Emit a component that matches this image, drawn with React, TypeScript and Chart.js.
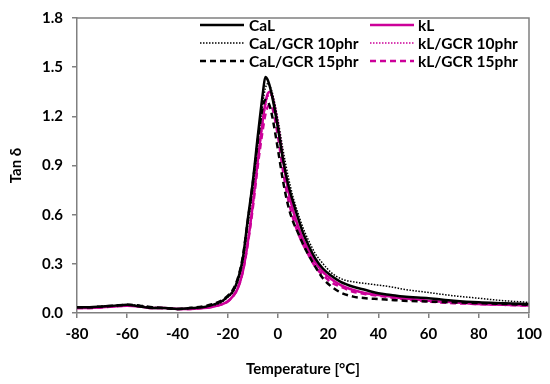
import React, { useEffect, useRef } from "react";
import { Chart, registerables } from "chart.js";

Chart.register(...registerables);

const temps = [-80, -75, -70, -65, -60, -55, -50, -45, -40, -35, -30, -27, -24, -22, -20, -18, -16, -14, -12, -10, -8, -6, -5, -4, -3, -2, 0, 2, 4, 6, 8, 10, 12, 15, 18, 21, 25, 30, 35, 40, 45, 50, 60, 70, 80, 90, 100];

const cal = [0.035, 0.035, 0.04, 0.045, 0.05, 0.04, 0.03, 0.03, 0.025, 0.03, 0.035, 0.045, 0.06, 0.075, 0.1, 0.13, 0.2, 0.33, 0.57, 0.8, 1.08, 1.34, 1.44, 1.42, 1.37, 1.3, 1.13, 0.94, 0.79, 0.68, 0.58, 0.49, 0.42, 0.33, 0.27, 0.23, 0.19, 0.16, 0.14, 0.12, 0.11, 0.1, 0.09, 0.075, 0.065, 0.06, 0.055];
const cal10 = [0.035, 0.035, 0.04, 0.045, 0.05, 0.045, 0.035, 0.03, 0.025, 0.03, 0.035, 0.045, 0.055, 0.07, 0.095, 0.125, 0.19, 0.31, 0.53, 0.76, 1.03, 1.28, 1.37, 1.4, 1.38, 1.33, 1.18, 1.0, 0.84, 0.71, 0.61, 0.52, 0.45, 0.36, 0.3, 0.25, 0.21, 0.19, 0.18, 0.17, 0.16, 0.145, 0.125, 0.105, 0.09, 0.075, 0.065];
const cal15 = [0.035, 0.035, 0.04, 0.045, 0.05, 0.045, 0.035, 0.03, 0.025, 0.03, 0.04, 0.05, 0.065, 0.08, 0.105, 0.14, 0.21, 0.34, 0.56, 0.79, 1.05, 1.26, 1.3, 1.29, 1.25, 1.18, 1.0, 0.81, 0.66, 0.56, 0.49, 0.42, 0.36, 0.28, 0.21, 0.165, 0.125, 0.1, 0.09, 0.085, 0.08, 0.075, 0.07, 0.065, 0.06, 0.055, 0.05];
const kl = [0.03, 0.03, 0.035, 0.04, 0.045, 0.04, 0.03, 0.03, 0.025, 0.025, 0.03, 0.035, 0.045, 0.055, 0.07, 0.1, 0.15, 0.25, 0.43, 0.66, 0.93, 1.18, 1.28, 1.34, 1.35, 1.31, 1.15, 0.94, 0.76, 0.63, 0.53, 0.45, 0.39, 0.31, 0.25, 0.21, 0.17, 0.14, 0.12, 0.11, 0.1, 0.09, 0.075, 0.065, 0.055, 0.05, 0.045];
const kl10 = [0.03, 0.03, 0.035, 0.04, 0.045, 0.04, 0.03, 0.03, 0.025, 0.025, 0.03, 0.035, 0.045, 0.055, 0.07, 0.1, 0.15, 0.25, 0.42, 0.65, 0.92, 1.16, 1.26, 1.32, 1.33, 1.3, 1.14, 0.93, 0.75, 0.62, 0.52, 0.44, 0.38, 0.3, 0.245, 0.205, 0.17, 0.14, 0.12, 0.11, 0.1, 0.09, 0.075, 0.065, 0.055, 0.05, 0.045];
const kl15 = [0.03, 0.03, 0.035, 0.04, 0.045, 0.04, 0.03, 0.03, 0.025, 0.025, 0.03, 0.035, 0.045, 0.055, 0.07, 0.1, 0.15, 0.25, 0.42, 0.64, 0.9, 1.12, 1.21, 1.26, 1.27, 1.24, 1.08, 0.87, 0.7, 0.58, 0.49, 0.42, 0.36, 0.28, 0.23, 0.19, 0.16, 0.13, 0.115, 0.105, 0.095, 0.085, 0.07, 0.06, 0.055, 0.05, 0.045];

const xTicks = [-80, -60, -40, -20, 0, 20, 40, 60, 80, 100];
const yTicks = [0.0, 0.3, 0.6, 0.9, 1.2, 1.5, 1.8];

const BLACK = "#000000";
const MAGENTA = "#CC0099";
const FONT = "Lato";

const seriesDefs = [
  { label: "CaL", values: cal, color: BLACK, dash: [] as number[], width: 2.5 },
  { label: "CaL/GCR 10phr", values: cal10, color: BLACK, dash: [1.5, 1.5], width: 1.5 },
  { label: "CaL/GCR 15phr", values: cal15, color: BLACK, dash: [6, 4], width: 2.5 },
  { label: "kL", values: kl, color: MAGENTA, dash: [] as number[], width: 2.5 },
  { label: "kL/GCR 10phr", values: kl10, color: MAGENTA, dash: [1.5, 1.5], width: 1.5 },
  { label: "kL/GCR 15phr", values: kl15, color: MAGENTA, dash: [6, 4], width: 2.5 },
];

const framePlugin = {
  id: "frameAndLegend",
  afterDraw(chart: any) {
    const { ctx, chartArea } = chart;
    ctx.save();
    ctx.strokeStyle = "#808080";
    ctx.lineWidth = 1.5;
    ctx.beginPath();
    ctx.moveTo(chartArea.left, chartArea.top);
    ctx.lineTo(chartArea.right, chartArea.top);
    ctx.lineTo(chartArea.right, chartArea.bottom);
    ctx.stroke();

    // legend, two columns
    const cols = [
      { lineX: 200, textX: 249 },
      { lineX: 370, textX: 418 },
    ];
    const rows = [25, 43, 61];
    ctx.font = `bold 15.5px ${FONT}`;
    ctx.textBaseline = "middle";
    ctx.textAlign = "left";
    seriesDefs.forEach((s, i) => {
      const c = cols[Math.floor(i / 3)];
      const y = rows[i % 3];
      ctx.strokeStyle = s.color;
      ctx.lineWidth = s.width;
      ctx.setLineDash(s.dash);
      ctx.beginPath();
      ctx.moveTo(c.lineX, y);
      ctx.lineTo(c.lineX + 44, y);
      ctx.stroke();
      ctx.setLineDash([]);
      ctx.fillStyle = "#000000";
      ctx.fillText(s.label, c.textX, y + 1);
    });
    ctx.restore();
  },
};

export default function App() {
  const ref = useRef<HTMLCanvasElement>(null);
  useEffect(() => {
    if (!ref.current) return;
    const datasets = seriesDefs.map((s) => ({
      label: s.label,
      data: temps.map((t, i) => ({ x: t, y: s.values[i] })),
      borderColor: s.color,
      borderWidth: s.width,
      borderDash: s.dash,
      pointRadius: 0,
      fill: false,
      cubicInterpolationMode: "monotone" as const,
    }));
    const chart = new Chart(ref.current, {
      type: "line",
      data: { datasets },
      options: {
        responsive: false,
        animation: false,
        layout: { padding: { left: 0, right: 21, top: 14, bottom: 0 } },
        plugins: { legend: { display: false }, tooltip: { enabled: false } },
        scales: {
          x: {
            type: "linear",
            min: -80,
            max: 100,
            afterBuildTicks: (scale: any) => {
              scale.ticks = xTicks.map((v) => ({ value: v }));
            },
            afterFit: (scale: any) => {
              scale.height = 71;
            },
            ticks: {
              color: "#000",
              font: { family: FONT, weight: "bold", size: 15 },
              padding: 7,
              maxRotation: 0,
              callback: (v: any) => String(v),
            },
            grid: { drawOnChartArea: false, drawTicks: true, tickLength: 5, color: "#808080", lineWidth: 1.5 },
            border: { display: true, color: "#808080", width: 1.5 },
            title: {
              display: true,
              text: "Temperature [°C]",
              color: "#000",
              font: { family: FONT, weight: "bold", size: 15 },
              padding: { top: 0, bottom: 6 },
            },
          },
          y: {
            type: "linear",
            min: 0,
            max: 1.8,
            afterBuildTicks: (scale: any) => {
              scale.ticks = yTicks.map((v) => ({ value: v }));
            },
            afterFit: (scale: any) => {
              scale.width = 77;
            },
            ticks: {
              color: "#000",
              font: { family: FONT, weight: "bold", size: 15 },
              padding: 9,
              callback: (v: any) => Number(v).toFixed(1),
            },
            grid: { drawOnChartArea: false, drawTicks: true, tickLength: 5, color: "#808080", lineWidth: 1.5 },
            border: { display: true, color: "#808080", width: 1.5 },
            title: {
              display: true,
              text: "Tan δ",
              color: "#000",
              font: { family: FONT, weight: "bold", size: 15 },
              padding: { top: 7, bottom: 0 },
            },
          },
        },
      },
      plugins: [framePlugin],
    });
    return () => chart.destroy();
  }, []);
  return (
    <div style={{ position: "fixed", left: 0, top: 0, width: 550, height: 384, background: "#fff" }}>
      <canvas ref={ref} width={550} height={384} style={{ width: 550, height: 384 }} />
    </div>
  );
}
